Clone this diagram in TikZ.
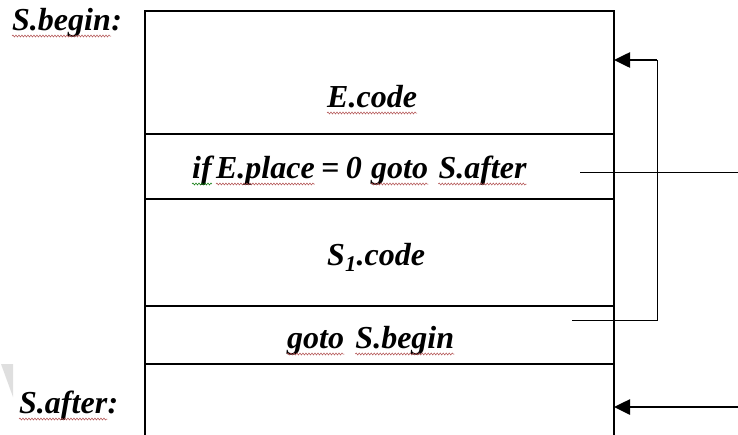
\documentclass[tikz,border=0pt]{standalone}
\usepackage{fontspec}
\setmainfont{Liberation Serif}
\usetikzlibrary{arrows.meta,decorations.pathmorphing}

\begin{document}
\begin{tikzpicture}[x=1pt,y=-1pt,
  frame/.style={line width=1.2pt,black},
  codetext/.style={font=\fontsize{32}{38}\selectfont\bfseries\itshape,inner sep=0pt,anchor=base},
  word/.style={codetext,anchor=base west},
  thinline/.style={line width=1pt,black},
  thickline/.style={line width=2.6pt,black},
  tiphead/.style={-{Triangle[length=16pt,width=15pt]}},
  wave/.style={draw=red!55!black!70,line width=0.5pt,decorate,
    decoration={snake,amplitude=1pt,segment length=3pt}},
  gwave/.style={wave,draw=green!45!black}]
\useasboundingbox (0,0) rectangle (738,434);

% faint grey wedge at the lower left
\fill[gray!25] (1,364) -- (13,364) -- (13,397) -- cycle;

% the code layout column
\draw[frame] (145,440) -- (145,11) -- (614,11) -- (614,440);
\draw[frame] (145,134) -- (614,134);
\draw[frame] (145,199) -- (614,199);
\draw[frame] (145,306) -- (614,306);
\draw[frame] (145,364) -- (614,364);

% labels
\node[word] (lbegin) at (12,30) {S.begin};
\node[word] (lbeginc) at (lbegin.base east) {:};
\node[word] (lafter) at (19,413) {S.after};
\node[word] (lafterc) at (lafter.base east) {:};

% code segments
\node[word] (ecode) at (327,107) {E.code};

\node[word] (tif)  at (192,178) {if};
\node[word] (tvar) at ([xshift=4pt]tif.base east) {E.place};
\node[word] (teq)  at ([xshift=6pt]tvar.base east) {=};
\node[word] (tzero) at ([xshift=6pt]teq.base east) {0};
\node[word] (tgo)  at ([xshift=9pt]tzero.base east) {goto};
\node[word] (tlab) at ([xshift=10pt]tgo.base east) {S.after};

\node[word] (scode) at (327,265) {S\textsubscript{1}.code};

\node[word] (jgo)  at (287,348) {goto};
\node[word] (jlab) at ([xshift=11pt]jgo.base east) {S.begin};

% proofing underlines
\foreach \w in {lbegin,lafter,ecode,tvar,tgo,tlab,jgo,jlab}
  \draw[wave] ([yshift=-6pt]\w.base west) -- ([yshift=-6pt]\w.base east);
\draw[gwave] ([yshift=-6pt]tif.base west) -- ([yshift=-6pt]tif.base east);

% jump targets on the right edge of the column
\coordinate (beginIn) at (614,60);
\coordinate (afterIn) at (614,407);
\coordinate (loopTop) at (657,60);
\coordinate (loopBot) at (657,320);
\coordinate (jumpOut) at (572,320);
\coordinate (testOut) at (580,172);
\coordinate (testEnd) at (738,172);
\coordinate (afterSrc) at (738,407);

% loop back to S.begin
\draw[thinline] (jumpOut) -- (loopBot) -- (loopTop);
\draw[thickline,tiphead] (loopTop) -- (beginIn);

% exit towards S.after
\draw[thinline] (testOut) -- (testEnd);
\draw[thickline,tiphead] (afterSrc) -- (afterIn);
\end{tikzpicture}
\end{document}
